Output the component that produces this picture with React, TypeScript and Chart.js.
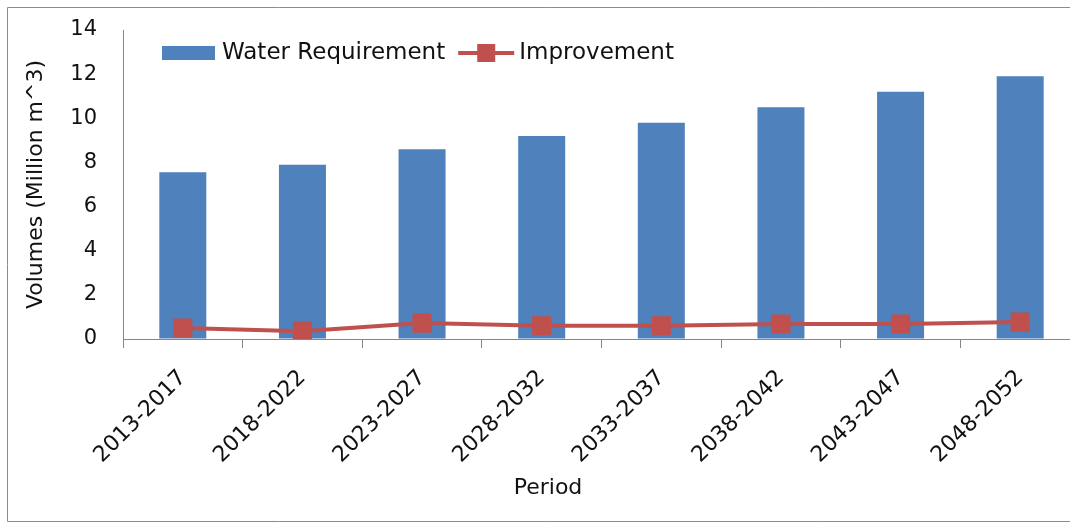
import React, { useEffect, useRef } from 'react';
import { Chart, registerables } from 'chart.js';

Chart.register(...registerables);

const categories = ['2013-2017', '2018-2022', '2023-2027', '2028-2032', '2033-2037', '2038-2042', '2043-2047', '2048-2052'];
const waterRequirement = [7.55, 7.9, 8.6, 9.2, 9.8, 10.5, 11.2, 11.9];
const improvement = [0.5, 0.35, 0.72, 0.6, 0.6, 0.68, 0.68, 0.77];
const yMin = 0;
const yMax = 14;
const yStep = 2;

const FONT = '"DejaVu Sans", sans-serif';
const BLUE = '#4f81bd';
const RED = '#c0504d';
const AXIS = '#868686';

export default function App() {
  const ref = useRef<HTMLCanvasElement>(null);

  useEffect(() => {
    if (!ref.current) return;

    const framePlugin = {
      id: 'frame',
      beforeDraw(chart: any) {
        const { ctx } = chart;
        ctx.save();
        ctx.fillStyle = '#fff';
        ctx.fillRect(0, 0, chart.width, chart.height);
        ctx.strokeStyle = '#8c8c8c';
        ctx.lineWidth = 1;
        ctx.beginPath();
        ctx.moveTo(chart.width + 5, 7.5);
        ctx.lineTo(7.5, 7.5);
        ctx.lineTo(7.5, 521.5);
        ctx.lineTo(chart.width + 5, 521.5);
        ctx.stroke();
        ctx.restore();
      },
    };

    const legendPlugin = {
      id: 'customLegend',
      afterDraw(chart: any) {
        const { ctx, chartArea } = chart;
        const ds = chart.data.datasets;
        ctx.save();
        ctx.font = `23px ${FONT}`;
        ctx.textBaseline = 'middle';
        const cy = chartArea.top + 23;
        let x = chartArea.left + 39;
        ctx.fillStyle = ds[0].backgroundColor;
        ctx.fillRect(x, cy - 7, 53, 14);
        x += 60;
        ctx.fillStyle = '#111';
        ctx.fillText(ds[0].label, x, cy);
        x += ctx.measureText(ds[0].label).width + 13;
        ctx.strokeStyle = ds[1].borderColor;
        ctx.lineWidth = 4;
        ctx.beginPath();
        ctx.moveTo(x, cy);
        ctx.lineTo(x + 56, cy);
        ctx.stroke();
        ctx.fillStyle = ds[1].pointBackgroundColor;
        ctx.fillRect(x + 28 - 9, cy - 9, 18, 18);
        x += 61;
        ctx.fillStyle = '#111';
        ctx.fillText(ds[1].label, x, cy);
        ctx.restore();
      },
    };

    const xTitlePlugin = {
      id: 'xTitle',
      afterDraw(chart: any) {
        const { ctx, chartArea } = chart;
        ctx.save();
        ctx.font = `22px ${FONT}`;
        ctx.textAlign = 'center';
        ctx.textBaseline = 'middle';
        ctx.fillStyle = '#111';
        ctx.fillText('Period', chartArea.left + 425, chartArea.bottom + 149);
        ctx.restore();
      },
    };

    const chart = new Chart(ref.current, {
      type: 'bar',
      data: {
        labels: categories,
        datasets: [
          {
            type: 'bar',
            label: 'Water Requirement',
            data: waterRequirement,
            backgroundColor: BLUE,
            borderWidth: 0,
            categoryPercentage: 1,
            barPercentage: 0.393,
            order: 2,
          },
          {
            type: 'line',
            label: 'Improvement',
            data: improvement,
            borderColor: RED,
            backgroundColor: RED,
            borderWidth: 4,
            pointStyle: 'rect',
            pointRadius: 13.5,
            pointBackgroundColor: RED,
            pointBorderColor: RED,
            pointBorderWidth: 0,
            tension: 0,
            order: 1,
          } as any,
        ],
      },
      options: {
        responsive: false,
        animation: false,
        devicePixelRatio: 1,
        layout: { autoPadding: false, padding: { left: 20, top: 30, right: 10, bottom: 0 } },
        plugins: {
          legend: { display: false },
          tooltip: { enabled: false },
        },
        scales: {
          x: {
            offset: true,
            grid: {
              display: true,
              drawOnChartArea: false,
              drawTicks: true,
              tickLength: 9,
              color: AXIS,
              offset: true,
            },
            border: { display: true, color: AXIS, width: 1 },
            ticks: {
              color: '#111',
              font: { family: FONT, size: 22 },
              minRotation: 45,
              maxRotation: 45,
              padding: 17,
              autoSkip: false,
            },
            afterFit(scale: any) {
              scale.height = 186;
            },
          },
          y: {
            min: yMin,
            max: yMax,
            grid: {
              display: true,
              drawOnChartArea: false,
              drawTicks: true,
              tickLength: 23,
              color: 'rgba(0,0,0,0)',
            },
            border: { display: true, color: AXIS, width: 1 },
            ticks: {
              stepSize: yStep,
              color: '#111',
              font: { family: FONT, size: 21 },
              padding: 3,
            },
            title: {
              display: true,
              text: 'Volumes (Million m^3)',
              color: '#111',
              font: { family: FONT, size: 22 },
              padding: { top: 3, bottom: 0 },
            },
            afterFit(scale: any) {
              scale.width = 103;
            },
          },
        },
      },
      plugins: [framePlugin, legendPlugin, xTitlePlugin],
    });

    return () => chart.destroy();
  }, []);

  return (
    <div style={{ position: 'absolute', left: 0, top: 0, width: 1070, height: 525, overflow: 'hidden', background: '#fff' }}>
      <canvas
        ref={ref}
        width={1090}
        height={525}
        style={{ position: 'absolute', left: 0, top: 0, width: 1090, height: 525 }}
      />
    </div>
  );
}
